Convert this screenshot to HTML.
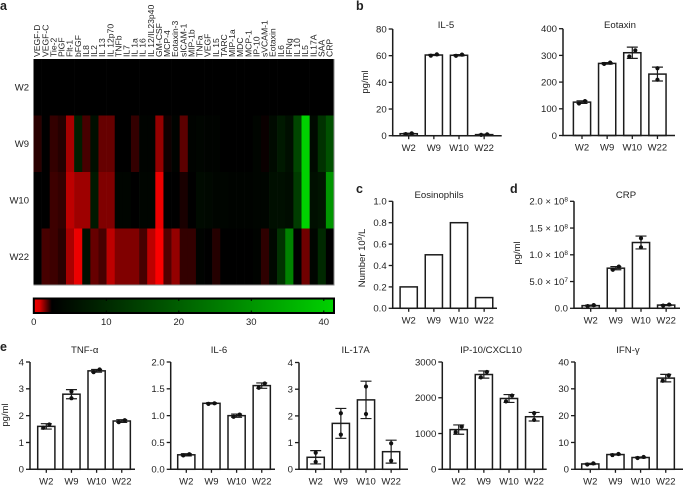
<!DOCTYPE html>
<html lang="en">
<head>
<meta charset="utf-8">
<title>Cytokine heatmap and bar charts</title>
<style>
html,body{margin:0;padding:0;background:#fff;}
svg{display:block;font-family:"Liberation Sans",sans-serif;}
text{fill:#222;}
</style>
</head>
<body>
<svg id="fig" xmlns="http://www.w3.org/2000/svg" width="683" height="485" viewBox="0 0 683 485">
<defs>
<linearGradient id="cbar" x1="0" x2="1" y1="0" y2="0">
<stop offset="0" stop-color="#f00000"/>
<stop offset="0.02" stop-color="#d80000"/>
<stop offset="0.06" stop-color="#000000"/>
<stop offset="1" stop-color="#00d200"/>
</linearGradient>
</defs>
<text x="0" y="10" font-size="12.5" font-weight="bold" fill="#000">a</text>
<text x="356" y="10" font-size="12.5" font-weight="bold" fill="#000">b</text>
<text x="356" y="193" font-size="12.5" font-weight="bold" fill="#000">c</text>
<text x="510" y="193" font-size="12.5" font-weight="bold" fill="#000">d</text>
<text x="0" y="351" font-size="12.5" font-weight="bold" fill="#000">e</text>
</svg>
<script>
const weeks = ['W2', 'W9', 'W10', 'W22'];
const analytes = ['VEGF-D','VEGF-C','Tie-2','PlGF','Flt-1','bFGF','IL8','IL2','IL 13','IL 12p70','TNFb','IL7','IL 1a','IL 16','IL 12/IL23p40','GM-CSF','MCP-4','Eotaxin-3','sICAM-1','MIP-1b','TNFa','VEGF','IL 15','TARC','MIP-1a','MDC','MCP-1','IP-10','sVCAM-1','Eotaxin','IL6','IFNg','IL 10','IL5','IL17A','SAA','CRP'];
const heatW2 = [2.5,2.5,2.5,2.5,2.5,2.5,2.5,2.5,2.5,2.5,2.5,2.5,2.5,2.5,2.5,2.5,2.5,2.5,2.5,2.5,2.5,2.5,2.5,2.5,2.5,2.5,2.5,2.5,2.5,2.5,2.5,2.5,2.5,2.5,2.5,2.5,2.5];
const heatW9 = [2.1,2.5,2.0,2.15,0.85,8,1.8,5.3,1.5,1.5,2.5,2.5,2,3,3,1.05,2.35,3,1.6,3,3.4,3,3,2.5,2.5,2.5,2.5,3.4,2.4,4.3,7,5.3,15.3,41,4.3,11.7,17.2];
const heatW10 = [2.5,2.5,1.9,2,0.65,0.95,0.95,7,1.25,1.25,3.4,3.4,2.5,3.4,3.4,0.2,2.5,2.5,2.25,2.5,4.3,4,3.4,3.4,3,3,3,3.4,3.4,5.3,5.3,4.7,13.5,41,5.3,6.2,30];
const heatW22 = [2.5,1.8,1.9,2.1,0.85,0.2,5.3,1.5,1.8,0.65,1.25,1.25,1.25,1.8,0.65,0.05,1.7,1.05,2,2,3,2.5,2.15,2.5,2.5,2.5,2.5,3,2.05,4,11.7,26.3,2.5,1.4,3.4,9.8,2.5];
const colorbarTicks = [0, 10, 20, 30, 40];

const il5Means = [1.5, 60.5, 60.3, 0.8];
const il5Errs = [0.4, 0.4, 0.5, 0.3];
const il5Points = [[1.2,1.8],[60,61],[59.9,60.8],[0.6,1]];
const il5Ticks = [0, 20, 40, 60, 80];

const eotaxinMeans = [125, 270, 310, 230];
const eotaxinErrs = [5, 3, 21, 26];
const eotaxinPoints = [[120,129],[268,273],[296,319],[209,252]];
const eotaxinTicks = [0, 100, 200, 300, 400];

const eosMeans = [0.2, 0.5, 0.8, 0.1];
const eosTicks = [0, 0.2, 0.4, 0.6, 0.8, 1.0];
const eosTickLabels = ['0.0', '0.2', '0.4', '0.6', '0.8', '1.0'];

const crpMeans = [0.5, 7.5, 12.3, 0.6];
const crpErrs = [0.1, 0.3, 1.2, 0.1];
const crpPoints = [[0.4,0.6],[7.2,7.8],[11.4,13.1],[0.5,0.7]];
const crpTicks = [0, 5, 10, 15, 20];
const crpTickMantissa = ['0.0', '5.0', '1.0', '1.5', '2.0'];
const crpTickExponent = ['', '7', '8', '8', '8'];

const tnfMeans = [1.6, 2.8, 3.67, 1.8];
const tnfErrs = [0.1, 0.17, 0.05, 0.05];
const tnfPoints = [[1.55,1.67],[2.65,2.9],[3.62,3.72],[1.76,1.83]];
const tnfTicks = [0, 1, 2, 3, 4];

const il6Means = [0.27, 1.23, 1.0, 1.56];
const il6Errs = [0.02, 0.01, 0.03, 0.05];
const il6Points = [[0.26,0.28],[1.22,1.23],[0.98,1.02],[1.52,1.6]];
const il6Ticks = [0, 0.5, 1, 1.5, 2];
const il6TickLabels = ['0.0', '0.5', '1.0', '1.5', '2.0'];

const il17Means = [0.45, 1.72, 2.6, 0.66];
const il17Errs = [0.25, 0.56, 0.7, 0.43];
const il17Points = [[0.28,0.62],[1.3,2.1],[2.07,3.1],[0.32,0.97]];
const il17Ticks = [0, 1, 2, 3, 4];

const ip10Means = [1110, 2650, 1980, 1470];
const ip10Errs = [130, 100, 110, 120];
const ip10Points = [[1040,1190],[2570,2720],[1900,2060],[1380,1570]];
const ip10Ticks = [0, 1000, 2000, 3000];

const ifnMeans = [2.0, 5.5, 4.4, 34];
const ifnErrs = [0.2, 0.2, 0.2, 1.4];
const ifnPoints = [[1.8,2.2],[5.3,5.7],[4.2,4.6],[33,35]];
const ifnTicks = [0, 10, 20, 30, 40];

const svg = document.getElementById('fig');
const NS = 'http://www.w3.org/2000/svg';
const INK = '#1c1c1c';

function make(tag, attrs, parent) {
  const el = document.createElementNS(NS, tag);
  for (const k in attrs) el.setAttribute(k, attrs[k]);
  (parent || svg).appendChild(el);
  return el;
}

/* ---------- heatmap ---------- */
const hmLeft = 33.5, hmRight = 334, hmTop = 59, hmBottom = 285;
const hmRows = [heatW2, heatW9, heatW10, heatW22];
const cbMax = 41.4;

function heatColor(v) {
  if (v <= 2.5) {
    const r = Math.round(255 * (1 - v / 2.5));
    return 'rgb(' + r + ',0,0)';
  }
  const g = Math.round(Math.min(210, 210 * (v - 2.5) / 38.5));
  return 'rgb(0,' + g + ',0)';
}

const hmGroup = make('g', {});


const colW = (hmRight - hmLeft) / analytes.length;
const rowH = (hmBottom - hmTop) / hmRows.length;
hmRows.forEach(function (row, r) {
  row.forEach(function (v, c) {
    const cell = make('rect', {
      x: (hmLeft + c * colW).toFixed(2),
      y: (hmTop + r * rowH).toFixed(2),
      width: (colW + 0.3).toFixed(2),
      height: (rowH + 0.3).toFixed(2),
      fill: heatColor(v)
    }, hmGroup);
    
    
  });
  const rowLabel = make('text', {
    x: 29,
    y: (hmTop + (r + 0.5) * rowH + 3.2).toFixed(1),
    'text-anchor': 'end',
    'font-size': 9.5
  });
  rowLabel.textContent = weeks[r];
  
  
});
analytes.forEach(function (name, c) {
  const tx = hmLeft + (c + 0.5) * colW + 2.6;
  const label = make('text', {
    transform: 'translate(' + tx.toFixed(1) + ',57) rotate(-90)',
    'font-size': 8.6
  });
  label.textContent = name;
  
  
});
const hmEdge = make('path', {
  d: 'M' + hmLeft + ' ' + hmBottom + 'H' + hmRight + 'V' + hmTop,
  fill: 'none', stroke: '#8a8a8a', 'stroke-width': 1
});



/* ---------- colour bar ---------- */
const cbLeft = 33.8, cbRight = 334, cbTop = 298.5, cbBottom = 313;
const cbScale = function (v) { return cbLeft + (v / cbMax) * (cbRight - cbLeft); };
const cbRect = make('rect', {
  x: cbLeft, y: cbTop, width: cbRight - cbLeft, height: cbBottom - cbTop,
  fill: 'url(#cbar)', stroke: '#000', 'stroke-width': 2
});


colorbarTicks.forEach(function (v) {
  const x = cbScale(v);
  const tick = make('path', {
    d: 'M' + x.toFixed(1) + ' ' + cbTop + 'v2.5M' + x.toFixed(1) + ' ' + cbBottom + 'v-2.5',
    stroke: '#000', 'stroke-width': 1
  });
  
  
  const lab = make('text', {
    x: x.toFixed(1), y: 325, 'text-anchor': 'middle', 'font-size': 9.5
  });
  lab.textContent = String(v);
  
  
});

/* ---------- bar charts ---------- */
function barChart(cfg) {
  const g = make('g', {});
  
  

  const maxV = cfg.ticks[cfg.ticks.length - 1];
  const y = function (v) { return cfg.y0 - (v / maxV) * (cfg.y0 - cfg.yTop); };
  const x = function (i) { return cfg.x0 + i * 25.15; };
  const barW = 17.2;

  const title = make('text', {
    x: cfg.titleX, y: cfg.titleY, 'text-anchor': 'middle', 'font-size': 9.6
  }, g);
  title.textContent = cfg.title;
  
  

  cfg.means.forEach(function (m, i) {
    const top = y(m);
    const bar = make('rect', {
      x: (x(i) - barW / 2).toFixed(2), y: top.toFixed(2),
      width: barW, height: Math.max(0, cfg.y0 - top).toFixed(2),
      fill: '#fff', stroke: INK, 'stroke-width': 1.5
    }, g);
    
    

    if (cfg.errs) {
      const e = cfg.errs[i];
      const hi = y(m + e).toFixed(2), lo = y(m - e).toFixed(2), cx = x(i);
      const err = make('path', {
        d: 'M' + (cx - 5.5).toFixed(2) + ' ' + hi + 'H' + (cx + 5.5).toFixed(2) +
           'M' + cx.toFixed(2) + ' ' + hi + 'V' + lo +
           'M' + (cx - 5.5).toFixed(2) + ' ' + lo + 'H' + (cx + 5.5).toFixed(2),
        fill: 'none', stroke: INK, 'stroke-width': 1.2
      }, g);
      
      
    }
    if (cfg.points) {
      const pts = cfg.points[i];
      const close = Math.abs(y(pts[0]) - y(pts[1])) < 6.6;
      pts.forEach(function (p, j) {
        const off = close ? (j === 0 ? -3 : 3) : 0;
        const dot = make('circle', {
          cx: (x(i) + off).toFixed(2), cy: y(p).toFixed(2), r: 2.1, fill: '#111'
        }, g);
        
        
      });
    }
    const xt = make('path', {
      d: 'M' + x(i).toFixed(2) + ' ' + cfg.y0 + 'v3.5',
      stroke: INK, 'stroke-width': 1.3
    }, g);
    
    
    const xl = make('text', {
      x: x(i).toFixed(2), y: cfg.y0 + 15.2, 'text-anchor': 'middle', 'font-size': 9.5
    }, g);
    xl.textContent = weeks[i];
    
    
  });

  const axes = make('path', {
    d: 'M' + cfg.axisX + ' ' + cfg.yTop + 'V' + cfg.y0 + 'H' + cfg.xEnd,
    fill: 'none', stroke: INK, 'stroke-width': 1.5
  }, g);
  
  

  cfg.ticks.forEach(function (t, i) {
    const ty = y(t);
    const tick = make('path', {
      d: 'M' + cfg.axisX + ' ' + ty.toFixed(2) + 'h-4',
      stroke: INK, 'stroke-width': 1.3
    }, g);
    
    
    const lab = make('text', {
      x: cfg.axisX - 6, y: (ty + 3.4).toFixed(2), 'text-anchor': 'end', 'font-size': 9.6
    }, g);
    
    
    if (cfg.exponents && cfg.exponents[i]) {
      lab.textContent = cfg.tickLabels[i] + ' × 10';
      const sup = make('tspan', { dy: -3, 'font-size': 6.5 }, lab);
      sup.textContent = cfg.exponents[i];
    } else {
      lab.textContent = cfg.tickLabels ? cfg.tickLabels[i] : String(t);
    }
  });

  if (cfg.yLabel) {
    const yl = make('text', {
      transform: 'translate(' + cfg.yLabelX + ',' + cfg.yLabelY + ') rotate(-90)',
      'text-anchor': 'middle', 'font-size': 9.5
    }, g);
    
    
    yl.textContent = cfg.yLabel;
    if (cfg.yLabelSup) {
      const s = make('tspan', { dy: -3, 'font-size': 6.5 }, yl);
      s.textContent = cfg.yLabelSup;
      const rest = make('tspan', { dy: 3 }, yl);
      rest.textContent = cfg.yLabelRest;
    }
  }
}

barChart({ name: 'il5', title: 'IL-5', titleX: 446, titleY: 28, axisX: 392.7, xEnd: 501.7, x0: 408.7, y0: 135.7, yTop: 29,
  means: il5Means, errs: il5Errs, points: il5Points, ticks: il5Ticks, yLabel: 'pg/ml', yLabelX: 368, yLabelY: 82 });
barChart({ name: 'eotaxin', title: 'Eotaxin', titleX: 620, titleY: 28, axisX: 563, xEnd: 675, x0: 582, y0: 135.5, yTop: 28.7,
  means: eotaxinMeans, errs: eotaxinErrs, points: eotaxinPoints, ticks: eotaxinTicks });
barChart({ name: 'eosinophils', title: 'Eosinophils', titleX: 439, titleY: 198, axisX: 392.7, xEnd: 497, x0: 408.7, y0: 308.3, yTop: 201.3,
  means: eosMeans, ticks: eosTicks, tickLabels: eosTickLabels, yLabel: 'Number 10', yLabelSup: '9', yLabelRest: '/L', yLabelX: 365, yLabelY: 258 });
barChart({ name: 'crp', title: 'CRP', titleX: 626, titleY: 198, axisX: 574, xEnd: 680, x0: 590.7, y0: 308.3, yTop: 201.3,
  means: crpMeans, errs: crpErrs, points: crpPoints, ticks: crpTicks, tickLabels: crpTickMantissa, exponents: crpTickExponent, yLabel: 'pg/ml', yLabelX: 520, yLabelY: 253 });
barChart({ name: 'tnf-alpha', title: 'TNF-α', titleX: 84.7, titleY: 353, axisX: 30, xEnd: 135, x0: 46.3, y0: 469.3, yTop: 362,
  means: tnfMeans, errs: tnfErrs, points: tnfPoints, ticks: tnfTicks, yLabel: 'pg/ml', yLabelX: 8, yLabelY: 415 });
barChart({ name: 'il6', title: 'IL-6', titleX: 219, titleY: 353, axisX: 170.7, xEnd: 275, x0: 186.3, y0: 469.3, yTop: 362,
  means: il6Means, errs: il6Errs, points: il6Points, ticks: il6Ticks, tickLabels: il6TickLabels });
barChart({ name: 'il17a', title: 'IL-17A', titleX: 355.7, titleY: 353, axisX: 299, xEnd: 408, x0: 315.7, y0: 469.3, yTop: 362.5,
  means: il17Means, errs: il17Errs, points: il17Points, ticks: il17Ticks });
barChart({ name: 'ip10', title: 'IP-10/CXCL10', titleX: 491, titleY: 353, axisX: 442.3, xEnd: 546.7, x0: 458.7, y0: 469.3, yTop: 362,
  means: ip10Means, errs: ip10Errs, points: ip10Points, ticks: ip10Ticks });
barChart({ name: 'ifn-gamma', title: 'IFN-γ', titleX: 628, titleY: 353, axisX: 575, xEnd: 683, x0: 590.3, y0: 469.3, yTop: 362,
  means: ifnMeans, errs: ifnErrs, points: ifnPoints, ticks: ifnTicks });
</script>
</body>
</html>
